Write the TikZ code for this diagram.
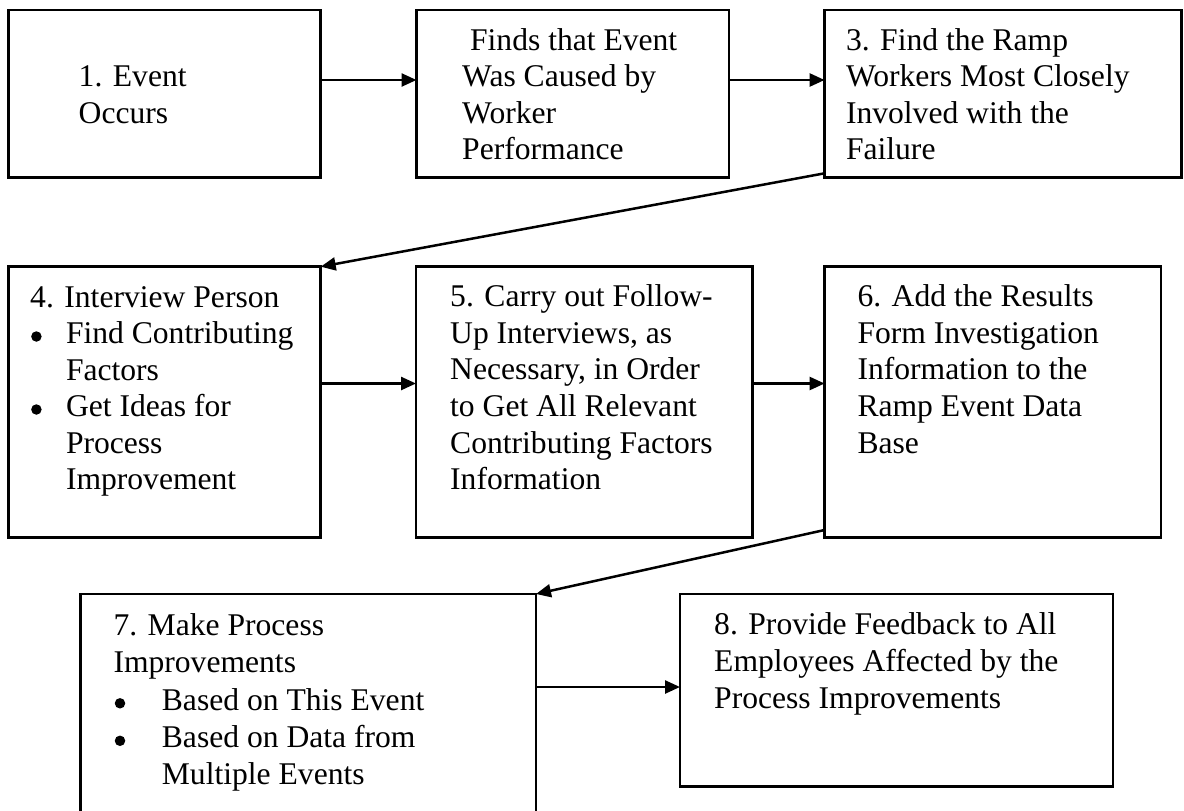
\documentclass[tikz,border=0pt]{standalone}
\usepackage{fontspec}
\setmainfont{Liberation Serif}
\usetikzlibrary{arrows.meta}
\begin{document}
\begin{tikzpicture}[x=1pt,y=-1pt,
  stepbox/.style={draw, line width=2.7pt, rectangle, inner sep=0pt, outer sep=0pt, anchor=north west},
  % multi-line texts are placed by the baseline of their last line
  txt/.style={anchor=base west, inner sep=0pt, align=left, font=\fontsize{31.6}{36.6}\selectfont},
  txtlow/.style={txt, font=\fontsize{31.6}{37.4}\selectfont},
  dot/.style={circle, fill, inner sep=0pt, minimum size=10.5pt},
  link/.style={line width=2.5pt, -{Triangle[length=15pt,width=13pt]}}]
\useasboundingbox (0,0) rectangle (1184,811);
\clip (0,0) rectangle (1184,811);

% process steps
\node[stepbox, minimum width=312.3pt, minimum height=167.3pt] (b1) at (8.4,10) {};
\node[stepbox, minimum width=312.5pt, minimum height=167.3pt] (b2) at (416.5,10) {};
\node[stepbox, minimum width=357pt,   minimum height=167.3pt] (b3) at (824.6,10) {};
\node[stepbox, minimum width=312.3pt, minimum height=271pt]   (b4) at (8.4,266.7) {};
\node[stepbox, minimum width=336.7pt, minimum height=271pt]   (b5) at (416,266.7) {};
\node[stepbox, minimum width=336.4pt, minimum height=271pt]   (b6) at (824.6,266.7) {};
\node[stepbox, minimum width=455.3pt, minimum height=250pt]   (b7) at (80.7,594) {};
\node[stepbox, minimum width=433pt,   minimum height=192.7pt] (b8) at (680,594) {};

% step texts
\node[txt] (t1) at (78.5,123.0) {1. Event\\Occurs};
\node[txt] (t2) at (462,159.8) {\hspace*{0.25em}Finds that Event\\Was Caused by\\Worker\\Performance};
\node[txt] (t3) at (845.8,159.8) {3. Find the Ramp\\Workers Most Closely\\Involved with the\\Failure};
\node[txt] (t4) at (30,307) {4. Interview Person};
\node[dot] (d4a) at (36.4,336.5) {};
\node[txt] (t4a) at (65.8,380.1) {Find Contributing\\Factors};
\node[dot] (d4b) at (36.4,409.5) {};
\node[txt] (t4b) at (65.8,489.7) {Get Ideas for\\Process\\Improvement};
\node[txt] (t5) at (450,489.7) {5. Carry out Follow-\\Up Interviews, as\\Necessary, in Order\\to Get All Relevant\\Contributing Factors\\Information};
\node[txt] (t6) at (857.3,453.1) {6. Add the Results\\Form Investigation\\Information to the\\Ramp Event Data\\Base};
\node[txtlow] (t7) at (113.3,672.4) {7. Make Process\\Improvements};
\node[dot] (d7a) at (120,703.3) {};
\node[txtlow] (t7a) at (161.7,710) {Based on This Event};
\node[dot] (d7b) at (120,740.8) {};
\node[txtlow] (t7b) at (161.7,784.9) {Based on Data from\\Multiple Events};
\node[txtlow] (t8) at (714,708.8) {8. Provide Feedback to All\\Employees Affected by the\\Process Improvements};

% connectors
\draw[link] (b1.east |- 0,80) -- (b2.west |- 0,80);
\draw[link] (b2.east |- 0,80) -- (b3.west |- 0,80);
\draw[link] ([yshift=4pt]b3.south west) -- (b4.north east);
\draw[link] (b4.east |- 0,383.5) -- (b5.west |- 0,383.5);
\draw[link] (b5.east |- 0,383.5) -- (b6.west |- 0,383.5);
\draw[link] ([yshift=7.7pt]b6.south west) -- (b7.north east);
\draw[link] (b7.east |- 0,687) -- (b8.west |- 0,687);
\end{tikzpicture}
\end{document}
